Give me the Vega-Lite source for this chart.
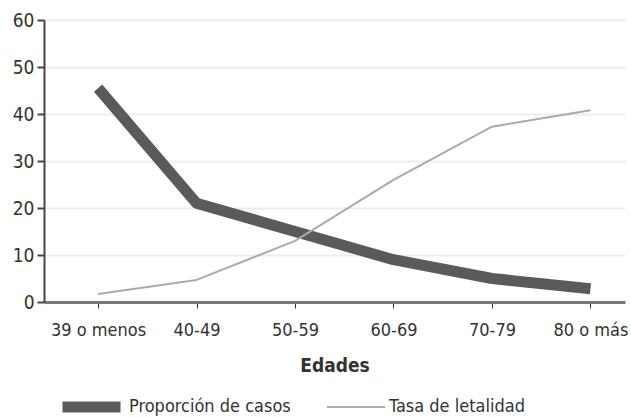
{
  "$schema": "https://vega.github.io/schema/vega-lite/v6.json",
  "width": 581,
  "height": 282,
  "autosize": {"type": "none"},
  "padding": {"left": 44, "top": 20, "right": 6, "bottom": 115},
  "background": "white",
  "config": {
    "font": "DejaVu Sans Condensed",
    "view": {"stroke": null}
  },
  "data": {
    "values": [
      {"edad": "39 o menos", "serie": "Proporción de casos", "valor": 45.5},
      {"edad": "40-49", "serie": "Proporción de casos", "valor": 21},
      {"edad": "50-59", "serie": "Proporción de casos", "valor": 15},
      {"edad": "60-69", "serie": "Proporción de casos", "valor": 9},
      {"edad": "70-79", "serie": "Proporción de casos", "valor": 5},
      {"edad": "80 o más", "serie": "Proporción de casos", "valor": 2.8},
      {"edad": "39 o menos", "serie": "Tasa de letalidad", "valor": 1.7},
      {"edad": "40-49", "serie": "Tasa de letalidad", "valor": 4.7},
      {"edad": "50-59", "serie": "Tasa de letalidad", "valor": 13},
      {"edad": "60-69", "serie": "Tasa de letalidad", "valor": 26},
      {"edad": "70-79", "serie": "Tasa de letalidad", "valor": 37.3},
      {"edad": "80 o más", "serie": "Tasa de letalidad", "valor": 40.8}
    ]
  },
  "mark": {"type": "line", "strokeCap": "butt", "strokeJoin": "round"},
  "encoding": {
    "x": {
      "field": "edad",
      "type": "ordinal",
      "sort": null,
      "scale": {"type": "point", "padding": 0.45, "align": 0.61, "round": false},
      "axis": {
        "title": "Edades",
        "titleFontSize": 19,
        "titleFontWeight": "bold",
        "titleColor": "#333",
        "titlePadding": 17,
        "labelAngle": 0,
        "labelFontSize": 18,
        "labelColor": "#333",
        "labelPadding": 13,
        "labelOverlap": false,
        "domainColor": "#777",
        "domainWidth": 3,
        "tickColor": "#333",
        "tickSize": 6,
        "grid": false
      }
    },
    "y": {
      "field": "valor",
      "type": "quantitative",
      "scale": {"domain": [0, 60], "nice": false},
      "axis": {
        "title": null,
        "values": [0, 10, 20, 30, 40, 50, 60],
        "labelFontSize": 19,
        "labelColor": "#333",
        "labelPadding": 3,
        "domainColor": "#444",
        "domainWidth": 2,
        "tickColor": "#444",
        "tickWidth": 2,
        "tickSize": 7,
        "gridColor": "#eeeeee",
        "gridWidth": 2
      }
    },
    "color": {
      "field": "serie",
      "type": "nominal",
      "scale": {"domain": ["Proporción de casos", "Tasa de letalidad"], "range": ["#5a5a5a", "#aaaaaa"]},
      "legend": {
        "title": null,
        "orient": "none",
        "legendX": 13,
        "legendY": 376,
        "direction": "horizontal",
        "clipHeight": 22,
        "symbolType": "stroke",
        "symbolSize": 3364,
        "symbolStrokeWidth": 2,
        "labelFontSize": 18,
        "labelLimit": 300,
        "labelColor": "#333",
        "labelOffset": 3,
        "columnPadding": 35,
        "encode": {
          "symbols": {
            "update": {
              "strokeWidth": {"signal": "datum.value === 'Proporción de casos' ? 9 : 2"}
            }
          }
        }
      }
    },
    "strokeWidth": {
      "field": "serie",
      "type": "nominal",
      "scale": {"domain": ["Proporción de casos", "Tasa de letalidad"], "range": [11, 2]},
      "legend": null
    }
  }
}
